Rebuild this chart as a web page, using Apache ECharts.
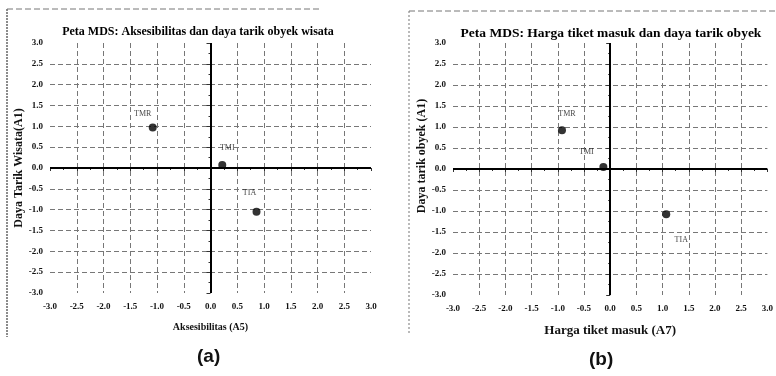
<!DOCTYPE html>
<html>
<head>
<meta charset="utf-8">
<script src="https://cdn.jsdelivr.net/npm/echarts@6/dist/echarts.min.js"></script>
<style>
  html, body { margin: 0; padding: 0; background: #fff; }
  #chart { width: 776px; height: 376px; }
</style>
</head>
<body>
<div id="chart"></div>
<script>
  // obyek wisata
  const sites = ['TMR', 'TMI', 'TIA'];
  // (a) Aksesibilitas (A5) vs Daya tarik (A1)
  const aksesibilitas = [-1.08, 0.22, 0.86];
  const dayaTarikA = [0.97, 0.07, -1.05];
  // (b) Harga tiket masuk (A7) vs Daya tarik (A1)
  const hargaTiket = [-0.92, -0.13, 1.07];
  const dayaTarikB = [0.92, 0.05, -1.08];

  // geser label titik (px)
  const offsetA = [[-10, 0], [5, -3], [-7, -5]];
  const offsetB = [[5, -2], [-17, -1], [15, 40]];

  const serif = 'Liberation Serif';
  const chart = echarts.init(document.getElementById('chart'));

  const makeX = (gridIndex, name, nameSize) => ({
    gridIndex: gridIndex,
    type: 'value',
    min: -3,
    max: 3,
    interval: 0.5,
    name: name,
    nameLocation: 'middle',
    nameGap: 29,
    nameTextStyle: { fontFamily: serif, fontWeight: 'bold', fontSize: nameSize, color: '#111' },
    axisLine: { show: false },
    axisTick: { show: true, length: 3, lineStyle: { color: '#333' } },
    minorTick: { show: true, splitNumber: 2, length: 2, lineStyle: { color: '#333' } },
    axisLabel: {
      fontFamily: serif, fontWeight: 'bold', fontSize: 9, color: '#111', margin: 9,
      formatter: (v) => v.toFixed(1)
    },
    splitLine: { show: true, showMinLine: false, showMaxLine: false, lineStyle: { color: '#777', type: [5, 3], width: 1 } }
  });

  const makeY = (gridIndex, name, gap, pad) => ({
    gridIndex: gridIndex,
    type: 'value',
    min: -3,
    max: 3,
    interval: 0.5,
    name: name,
    nameLocation: 'middle',
    nameGap: gap,
    nameTextStyle: { fontFamily: serif, fontWeight: 'bold', fontSize: 12, color: '#111', padding: pad },
    axisLine: { show: false },
    axisTick: { show: true, length: 4, lineStyle: { color: '#333' } },
    minorTick: { show: true, splitNumber: 2, length: 2, lineStyle: { color: '#333' } },
    axisLabel: {
      fontFamily: serif, fontWeight: 'bold', fontSize: 9, color: '#111', margin: 7,
      formatter: (v) => v.toFixed(1)
    },
    splitLine: { show: true, showMinLine: false, showMaxLine: false, lineStyle: { color: '#777', type: [5, 3], width: 1 } }
  });

  const makeSeries = (idx, xs, ys, offsets) => ({
    type: 'scatter',
    xAxisIndex: idx,
    yAxisIndex: idx,
    symbolSize: 8,
    itemStyle: { color: '#000' },
    data: sites.map((s, i) => ({
      name: s,
      value: [xs[i], ys[i]],
      label: { offset: offsets[i] }
    })),
    label: {
      show: true,
      position: 'top',
      distance: 6,
      formatter: '{b}',
      fontFamily: serif,
      fontSize: 8,
      color: '#111'
    },
    markLine: {
      silent: true,
      symbol: 'none',
      label: { show: false },
      lineStyle: { color: '#000', type: 'solid', width: 2 },
      data: [{ xAxis: 0 }, { yAxis: 0 }]
    }
  });

  const option = {
    animation: false,
    title: [
      {
        text: 'Peta MDS: Aksesibilitas dan daya tarik obyek wisata',
        left: 193, top: 21, textAlign: 'center',
        textStyle: { fontFamily: serif, fontWeight: 'bold', fontSize: 12, color: '#000' }
      },
      {
        text: 'Peta MDS: Harga tiket masuk dan daya tarik obyek',
        left: 606, top: 22, textAlign: 'center',
        textStyle: { fontFamily: serif, fontWeight: 'bold', fontSize: 13.5, color: '#000' }
      }
    ],
    grid: [
      { left: 50, top: 43, width: 321, height: 250 },
      { left: 453, top: 43, width: 321, height: 252 }
    ],
    xAxis: [makeX(0, 'Aksesibilitas (A5)', 10), makeX(1, 'Harga tiket masuk (A7)', 13)],
    yAxis: [
      makeY(0, 'Daya Tarik Wisata(A1)', 24, [0, 0, 0, 0]),
      makeY(1, 'Daya tarik obyek (A1)', 17, [0, 0, 0, 26])
    ],
    series: [
      makeSeries(0, aksesibilitas, dayaTarikA, offsetA),
      makeSeries(1, hargaTiket, dayaTarikB, offsetB)
    ],
    graphic: [
      // bingkai hasil scan
      { type: 'line', shape: { x1: 7, y1: 9, x2: 7, y2: 337 }, style: { stroke: '#666', lineWidth: 1.5, lineDash: [2, 1] } },
      { type: 'line', shape: { x1: 7, y1: 9, x2: 322, y2: 9 }, style: { stroke: '#777', lineWidth: 1, lineDash: [6, 3] } },
      { type: 'line', shape: { x1: 409, y1: 11, x2: 409, y2: 335 }, style: { stroke: '#777', lineWidth: 1, lineDash: [2, 2] } },
      { type: 'line', shape: { x1: 409, y1: 11, x2: 776, y2: 11 }, style: { stroke: '#777', lineWidth: 1, lineDash: [6, 3] } },
      {
        type: 'text', left: 197, top: 347,
        style: { text: '(a)', fontFamily: 'Liberation Sans', fontWeight: 'bold', fontSize: 19, fill: '#111' }
      },
      {
        type: 'text', left: 589, top: 350,
        style: { text: '(b)', fontFamily: 'Liberation Sans', fontWeight: 'bold', fontSize: 19, fill: '#111' }
      }
    ]
  };

  chart.setOption(option);
</script>
</body>
</html>
